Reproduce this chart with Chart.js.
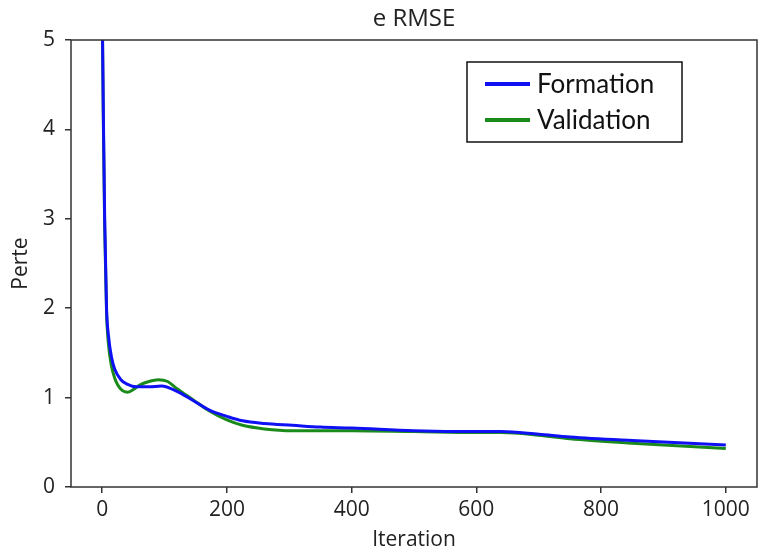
<!DOCTYPE html>
<html>
<head>
<meta charset="utf-8">
<script src="https://cdn.jsdelivr.net/npm/chart.js@4.4.1/dist/chart.umd.min.js"></script>
<style>
  html, body { margin: 0; padding: 0; background: #fff; }
  #wrap { width: 758px; height: 553px; position: relative; }
</style>
</head>
<body>
<div id="wrap"><canvas id="rmseChart" width="758" height="553"></canvas></div>
<script>
// Données
var iterFormation = [0, 2, 4, 7, 10, 15, 20, 30, 40, 55, 75, 95, 120, 145, 172, 200, 225, 260, 305, 350, 400, 500, 600, 640, 700, 750, 850, 1000];
var perteFormation = [5.4, 4.1, 3.0, 2.0, 1.7, 1.45, 1.32, 1.2, 1.15, 1.12, 1.12, 1.13, 1.07, 0.97, 0.86, 0.79, 0.74, 0.71, 0.69, 0.67, 0.66, 0.63, 0.62, 0.62, 0.59, 0.56, 0.52, 0.47];

var iterValidation = [0, 2, 4, 7, 10, 15, 20, 25, 32, 40, 50, 60, 75, 90, 105, 120, 145, 172, 200, 225, 260, 305, 350, 400, 500, 600, 640, 700, 750, 850, 1000];
var perteValidation = [5.4, 4.0, 2.9, 1.95, 1.6, 1.35, 1.22, 1.14, 1.08, 1.06, 1.09, 1.14, 1.18, 1.2, 1.18, 1.1, 0.98, 0.85, 0.75, 0.69, 0.65, 0.63, 0.63, 0.63, 0.62, 0.61, 0.61, 0.58, 0.54, 0.49, 0.43];

var ticksX = [0, 200, 400, 600, 800, 1000];
var ticksY = [0, 1, 2, 3, 4, 5];
var nomsSeries = ['Formation', 'Validation'];
var couleurs = ['#1010f5', '#1a8a1a'];

function versPoints(xs, ys) {
    return xs.map(function(x, i) { return { x: x, y: ys[i] }; });
}

// Cadre autour de la zone du graphique + titre + légende
var cadrePlugin = {
    id: 'cadre',
    afterDraw: function(chart) {
        var c = chart.ctx, a = chart.chartArea;
        c.save();
        c.strokeStyle = '#333';
        c.lineWidth = 1.5;
        c.strokeRect(a.left, a.top, a.right - a.left, a.bottom - a.top);

        // titre
        c.fillStyle = '#222';
        c.font = '24px "Open Sans"';
        c.textAlign = 'center';
        c.textBaseline = 'middle';
        c.fillText('e RMSE', 414, 19);

        // légende
        c.fillStyle = '#fff';
        c.fillRect(467, 62, 215, 80);
        c.strokeStyle = '#111';
        c.lineWidth = 1.5;
        c.strokeRect(467, 62, 215, 80);
        c.font = '26px Lato';
        c.textAlign = 'left';
        var ys = [84, 120];
        for (var i = 0; i < nomsSeries.length; i++) {
            c.strokeStyle = couleurs[i];
            c.lineWidth = 4;
            c.beginPath();
            c.moveTo(485, ys[i]);
            c.lineTo(530, ys[i]);
            c.stroke();
            c.fillStyle = '#111';
            c.fillText(nomsSeries[i], 537, ys[i] + 1);
        }
        c.restore();
    }
};

var policeAxe = { family: 'Open Sans', size: 21 };

var ctx = document.getElementById('rmseChart').getContext('2d');
var chart = new Chart(ctx, {
    type: 'line',
    data: {
        datasets: [{
            label: nomsSeries[0],
            data: versPoints(iterFormation, perteFormation),
            borderColor: couleurs[0],
            borderWidth: 3,
            pointRadius: 0,
            cubicInterpolationMode: 'monotone'
        }, {
            label: nomsSeries[1],
            data: versPoints(iterValidation, perteValidation),
            borderColor: couleurs[1],
            borderWidth: 3,
            pointRadius: 0,
            cubicInterpolationMode: 'monotone'
        }]
    },
    options: {
        responsive: false,
        animation: false,
        layout: { padding: { top: 40, right: 1, left: 0, bottom: 0 } },
        plugins: {
            legend: { display: false },
            title: { display: false },
            tooltip: { enabled: false }
        },
        scales: {
            x: {
                type: 'linear',
                min: -50,
                max: 1050,
                afterBuildTicks: function(scale) {
                    scale.ticks = ticksX.map(function(v) { return { value: v }; });
                },
                afterFit: function(scale) { scale.height = 66; },
                grid: { drawOnChartArea: false, drawTicks: true, tickLength: 6, color: '#333', lineWidth: 1.5 },
                border: { display: false },
                ticks: {
                    color: '#222', font: policeAxe, padding: 4, maxRotation: 0,
                    callback: function(v) { return String(v); }
                },
                title: { display: true, text: 'Iteration', color: '#222', font: policeAxe, padding: { top: 0, bottom: 0 } }
            },
            y: {
                min: 0,
                max: 5,
                afterBuildTicks: function(scale) {
                    scale.ticks = ticksY.map(function(v) { return { value: v }; });
                },
                afterFit: function(scale) { scale.width = 71; },
                grid: { drawOnChartArea: false, drawTicks: true, tickLength: 6, color: '#333', lineWidth: 1.5 },
                border: { display: false },
                ticks: {
                    color: '#222', font: policeAxe, padding: 10,
                    callback: function(v) { return String(v); }
                },
                title: { display: true, text: 'Perte', color: '#222', font: policeAxe, padding: { top: 8, bottom: 0 } }
            }
        }
    },
    plugins: [cadrePlugin]
});
</script>
</body>
</html>
